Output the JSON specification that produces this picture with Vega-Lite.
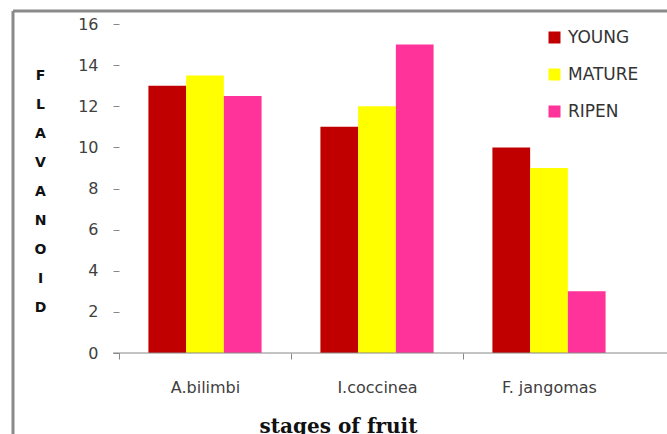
{
  "$schema": "https://vega.github.io/schema/vega-lite/v6.json",
  "width": 654,
  "height": 423,
  "autosize": {"type": "none"},
  "padding": {"left": 13, "top": 11, "right": 0, "bottom": 0},
  "background": "white",
  "config": {
    "view": {"stroke": "#8a8a8a", "strokeWidth": 3, "strokeDash": [654, 1077, 423, 0]},
    "axis": {"grid": false, "domain": false}
  },
  "layer": [
    {
      "data": {
        "values": [
          {"fruit": "A.bilimbi", "stage": "YOUNG", "flavanoid": 13},
          {"fruit": "A.bilimbi", "stage": "MATURE", "flavanoid": 13.5},
          {"fruit": "A.bilimbi", "stage": "RIPEN", "flavanoid": 12.5},
          {"fruit": "I.coccinea", "stage": "YOUNG", "flavanoid": 11},
          {"fruit": "I.coccinea", "stage": "MATURE", "flavanoid": 12},
          {"fruit": "I.coccinea", "stage": "RIPEN", "flavanoid": 15},
          {"fruit": "F. jangomas", "stage": "YOUNG", "flavanoid": 10},
          {"fruit": "F. jangomas", "stage": "MATURE", "flavanoid": 9},
          {"fruit": "F. jangomas", "stage": "RIPEN", "flavanoid": 3}
        ]
      },
      "mark": {"type": "bar"},
      "encoding": {
        "x": {
          "field": "fruit",
          "type": "nominal",
          "sort": ["A.bilimbi", "I.coccinea", "F. jangomas"],
          "scale": {"range": [106, 622], "paddingInner": 0, "paddingOuter": 0},
          "axis": {
            "title": "stages of fruit",
            "orient": "bottom",
            "offset": -81,
            "labelAngle": 0,
            "tickSize": 6,
            "tickOffset": -86,
            "labelOffset": 86,
            "tickColor": "#888888",
            "labelFont": "DejaVu Sans",
            "labelFontSize": 16,
            "labelColor": "#404040",
            "labelPadding": 33,
            "labelBaseline": "alphabetic",
            "titleFont": "DejaVu Serif",
            "titleFontSize": 20,
            "titleFontWeight": "bold",
            "titleColor": "#111111",
            "titleX": 325,
            "titleY": 79,
            "titleAlign": "center",
            "titleBaseline": "alphabetic"
          }
        },
        "xOffset": {
          "field": "stage",
          "type": "nominal",
          "sort": ["YOUNG", "MATURE", "RIPEN"],
          "scale": {"paddingInner": 0, "paddingOuter": 0.78}
        },
        "y": {
          "field": "flavanoid",
          "type": "quantitative",
          "scale": {"domain": [0, 16], "range": [342, 13], "nice": false},
          "axis": {
            "title": ["F", "L", "A", "V", "A", "N", "O", "I", "D"],
            "offset": -106,
            "values": [0, 2, 4, 6, 8, 10, 12, 14, 16],
            "tickSize": 6,
            "tickColor": "#888888",
            "labelFont": "DejaVu Sans",
            "labelFontSize": 16,
            "labelColor": "#404040",
            "labelPadding": 15,
            "titleAngle": 0,
            "titleFont": "DejaVu Sans",
            "titleFontSize": 14,
            "titleFontWeight": "bold",
            "titleColor": "#111111",
            "titleLineHeight": 29,
            "titleX": -79,
            "titleY": 57,
            "titleAlign": "center",
            "titleBaseline": "top"
          }
        },
        "color": {
          "field": "stage",
          "type": "nominal",
          "scale": {"domain": ["YOUNG", "MATURE", "RIPEN"], "range": ["#c00000", "#ffff00", "#ff3399"]},
          "legend": {
            "title": null,
            "orient": "none",
            "legendX": 533,
            "legendY": 18,
            "padding": 0,
            "symbolType": "square",
            "symbolSize": 144,
            "symbolStrokeWidth": 0,
            "labelFont": "DejaVu Sans",
            "labelFontSize": 17,
            "labelColor": "#333333",
            "labelOffset": 5,
            "rowPadding": 19
          }
        }
      }
    },
    {
      "data": {"values": [{}]},
      "mark": {"type": "rule", "color": "#888888", "strokeWidth": 1},
      "encoding": {
        "x": {"datum": 0, "type": "quantitative", "scale": {"domain": [0, 1], "range": [100, 654]}, "axis": null},
        "x2": {"datum": 1},
        "y": {"datum": 0, "type": "quantitative"}
      }
    }
  ],
  "resolve": {"scale": {"x": "independent"}}
}
